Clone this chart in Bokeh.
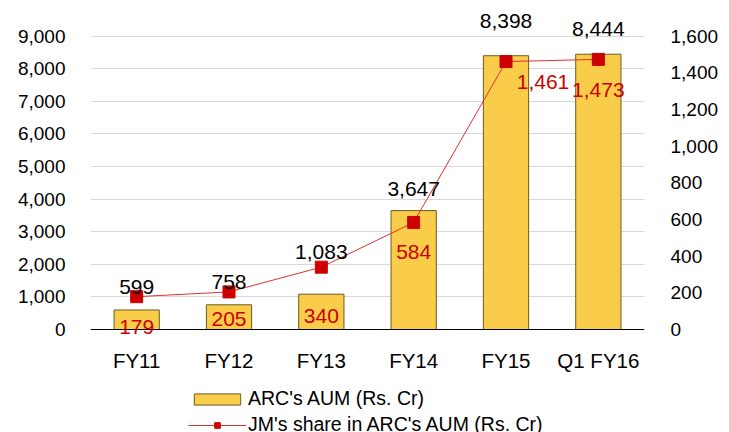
from bokeh.plotting import figure
from bokeh.layouts import column
from bokeh.models import (ColumnDataSource, Range1d, LinearAxis, FixedTicker, Span,
                          NumeralTickFormatter, LabelSet, Legend, LegendItem, FactorRange)
from bokeh.core.properties import value
from bokeh.embed import file_html
from bokeh.resources import INLINE

categories = ["FY11", "FY12", "FY13", "FY14", "FY15", "Q1 FY16"]
arc_aum = [599, 758, 1083, 3647, 8398, 8444]
jm_share = [179, 205, 340, 584, 1461, 1473]
left_ticks = [0, 1000, 2000, 3000, 4000, 5000, 6000, 7000, 8000, 9000]
right_ticks = [0, 200, 400, 600, 800, 1000, 1200, 1400, 1600]
series_names = ["ARC's AUM (Rs. Cr)", "JM's share in ARC's AUM (Rs. Cr)"]

# label offsets (screen px, styling only)
bar_lbl_dy = [23, 23, 42, 22, 35, 25]
line_lbl_dx = [0, 0, 0, 0, 37, 0]
line_lbl_dy = [-30, -27, -49, -30, -20, -31]

FONT = "Liberation Sans"
BAR_FILL, BAR_LINE = "#F9CD4A", "#6B5A1E"
LINE_COL, MARK_COL = "#E03030", "#CC0000"
LEFT_LO, LEFT_HI = -245, 9785
SCALE = 1600 / 9000

src = ColumnDataSource(dict(
    cat=categories, aum=arc_aum, jm=jm_share,
    aum_txt=[f"{v:,}" for v in arc_aum],
    jm_txt=[f"{v:,}" for v in jm_share],
    bdy=bar_lbl_dy, ldx=line_lbl_dx, ldy=line_lbl_dy,
))

W = 721
p = figure(width=W, height=374, x_range=FactorRange(*categories, range_padding=0),
           y_range=Range1d(LEFT_LO, LEFT_HI), output_backend="svg", toolbar_location=None,
           min_border_left=90, min_border_right=68, min_border_top=10, min_border_bottom=37)
p.extra_y_ranges = {"right": Range1d(LEFT_LO * SCALE, LEFT_HI * SCALE)}
p.outline_line_color = None
p.background_fill_color = "white"
p.xgrid.grid_line_color = None
p.ygrid.grid_line_color = "#D9D9D9"
p.ygrid.ticker = FixedTicker(ticks=left_ticks[1:])

p.vbar(x="cat", top="aum", bottom=0, width=0.49, source=src,
       fill_color=BAR_FILL, line_color=BAR_LINE, line_width=1)
p.add_layout(Span(location=0, dimension="width", line_color="black", line_width=1))
p.line(x="cat", y="jm", source=src, y_range_name="right",
       line_color=LINE_COL, line_width=1)
p.scatter(x="cat", y="jm", source=src, y_range_name="right", marker="square",
          size=12, fill_color=MARK_COL, line_color=MARK_COL)

# axes
yl = p.yaxis[0]
yl.ticker = FixedTicker(ticks=left_ticks)
yl.formatter = NumeralTickFormatter(format="0,0")
yr = LinearAxis(y_range_name="right", ticker=FixedTicker(ticks=right_ticks),
                formatter=NumeralTickFormatter(format="0,0"))
p.add_layout(yr, "right")
for ax in (yl, yr):
    ax.axis_line_color = None
    ax.major_tick_line_color = None
    ax.minor_tick_line_color = None
    ax.major_label_text_font = FONT
    ax.major_label_text_font_size = "19px"
    ax.major_label_text_color = "black"
yl.major_label_standoff = 19
yr.major_label_standoff = 20

xa = p.xaxis[0]
xa.axis_line_color = None
xa.major_tick_line_color = None
xa.minor_tick_line_color = None
xa.major_label_text_font = FONT
xa.major_label_text_font_size = "20.5px"
xa.major_label_text_color = "black"
xa.major_label_standoff = 5

# value labels
p.add_layout(LabelSet(x="cat", y="aum", text="aum_txt", source=src, y_offset="bdy",
                      text_align="center", text_baseline="middle", text_font=value(FONT),
                      text_font_size="21px", text_color="black"))
p.add_layout(LabelSet(x="cat", y="jm", text="jm_txt", source=src, y_range_name="right",
                      x_offset="ldx", y_offset="ldy",
                      text_align="center", text_baseline="middle", text_font=value(FONT),
                      text_font_size="21px", text_color="#CC0000"))

# legend strip below the chart (legend-only renderers sit outside the visible range)
lg = figure(width=W, height=58, x_range=Range1d(0, 1), y_range=Range1d(0, 1),
            output_backend="svg", toolbar_location=None, x_axis_type=None, y_axis_type=None,
            min_border=0)
lg.outline_line_color = None
lg.xgrid.grid_line_color = None
lg.ygrid.grid_line_color = None
r_bar = lg.vbar(x=[-10], top=[-10], bottom=[-11], width=0.5,
                fill_color=BAR_FILL, line_color=BAR_LINE, line_width=1)
r_line = lg.line(x=[-10, -9], y=[-10, -10], line_color=LINE_COL, line_width=1)
r_mark = lg.scatter(x=[-10], y=[-10], marker="square", size=12,
                    fill_color=MARK_COL, line_color=MARK_COL)

legend = Legend(items=[LegendItem(label=series_names[0], renderers=[r_bar]),
                       LegendItem(label=series_names[1], renderers=[r_line, r_mark])],
                location=(98, -4), orientation="vertical")
legend.border_line_color = None
legend.background_fill_alpha = 0
legend.padding = 0
legend.margin = 0
legend.spacing = 3
legend.glyph_width = 58
legend.glyph_height = 14
legend.label_text_font = FONT
legend.label_text_font_size = "19.5px"
legend.label_text_color = "black"
legend.label_standoff = 2
lg.add_layout(legend, "center")

layout = column(p, lg, spacing=0)
open("out.html", "w").write(file_html(layout, INLINE))
